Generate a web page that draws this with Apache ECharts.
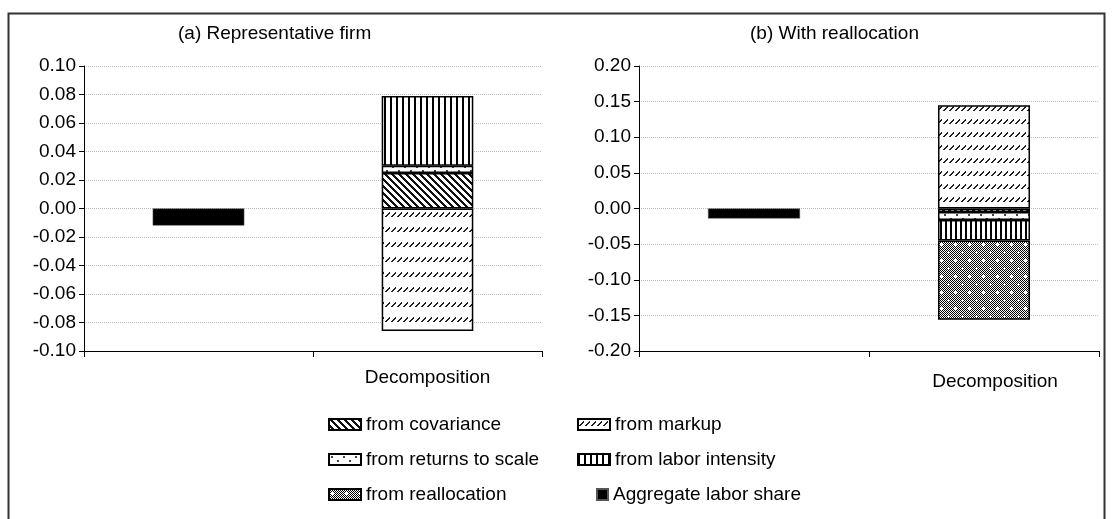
<!DOCTYPE html>
<html><head><meta charset="utf-8">
<script src="https://cdn.jsdelivr.net/npm/echarts@6/dist/echarts.min.js"></script>
<style>html,body{margin:0;padding:0;background:#fff}#c{width:1113px;height:519px}</style>
</head><body><div id="c"></div>
<script>
// ---- data ----
const categories = ['', 'Decomposition'];
const componentNames = ['from covariance', 'from markup', 'from returns to scale', 'from labor intensity', 'from reallocation'];
const aggregateName = 'Aggregate labor share';
// panel (a) Representative firm: covariance, markup, returns to scale, labor intensity, reallocation
const decompA = [0.025, -0.086, 0.005, 0.049, null];
// panel (b) With reallocation
const decompB = [-0.005, 0.145, -0.011, -0.029, -0.111];
const aggregateA = -0.012;
const aggregateB = -0.014;
const titles = ['(a) Representative firm', '(b) With reallocation'];
const yRangeA = [-0.10, 0.10, 0.02];
const yRangeB = [-0.20, 0.20, 0.05];

const FONT = '"Liberation Sans", Arial, sans-serif';
const FS = 19;

// ---- hatch patterns ----
function makeCanvas(w, h) {
  const c = document.createElement('canvas');
  c.width = w; c.height = h;
  const ctx = c.getContext('2d');
  ctx.fillStyle = '#fff'; ctx.fillRect(0, 0, w, h);
  return [c, ctx];
}
function patCov(p) {
  const [c, ctx] = makeCanvas(p, p);
  ctx.fillStyle = '#111';
  for (let y = 0; y < p; y++) for (let k = 0; k < 3; k++) ctx.fillRect((y + k) % p, y, 1, 1);
  return c;
}
function patMarkup(w, h) {
  const [c, ctx] = makeCanvas(w, h);
  ctx.fillStyle = '#222';
  for (let i = 0; i < 5; i++) ctx.fillRect((1 + i) % w, 6 - i, 2, 1);
  return c;
}
function patRts() {
  const [c, ctx] = makeCanvas(12, 8);
  ctx.fillStyle = '#444';
  ctx.fillRect(2, 2, 2, 2);
  ctx.fillRect(8, 6, 2, 2);
  return c;
}
function patLabor(p) {
  const [c, ctx] = makeCanvas(p, 4);
  ctx.fillStyle = '#000';
  ctx.fillRect(0, 0, 2, 4);
  return c;
}
function patRealloc() {
  const [c, ctx] = makeCanvas(14, 16);
  for (let y = 0; y < 16; y++) for (let x = 0; x < 14; x++) {
    ctx.fillStyle = ((x + y) % 2 === 0) ? '#000' : '#fff';
    ctx.fillRect(x, y, 1, 1);
  }
  ctx.fillStyle = '#fff';
  [[3, 4], [10, 12]].forEach(([x, y]) => {
    ctx.fillRect(x - 1, y, 3, 1); ctx.fillRect(x, y - 1, 1, 3);
  });
  return c;
}
function patterns(scaleLeft) {
  return [
    { image: patCov(scaleLeft ? 7 : 6), repeat: 'repeat' },
    { image: patMarkup(6, scaleLeft ? 15 : 13), repeat: 'repeat' },
    { image: patRts(), repeat: 'repeat' },
    { image: patLabor(scaleLeft ? 6 : 5), repeat: 'repeat' },
    { image: patRealloc(), repeat: 'repeat' }
  ];
}

function panelSeries(idx, decomp, agg, pats) {
  const out = [];
  decomp.forEach((v, i) => {
    if (v === null) return;
    out.push({
      name: componentNames[i], type: 'bar', xAxisIndex: idx, yAxisIndex: idx,
      stack: 'p' + idx, barWidth: '40%',
      data: ['-', v],
      itemStyle: { color: pats[i], borderColor: '#000', borderWidth: 1.5 }
    });
  });
  out.push({
    name: aggregateName, type: 'bar', xAxisIndex: idx, yAxisIndex: idx,
    stack: 'p' + idx, barWidth: '40%',
    data: [agg, '-'],
    itemStyle: { color: '#000', borderColor: '#555', borderWidth: 0.5 }
  });
  return out;
}

function xAx(idx, labelMargin, pad) {
  return {
    gridIndex: idx, type: 'category', data: categories,
    axisLine: { onZero: false, lineStyle: { color: '#000', width: 1 } },
    axisTick: { show: true, length: 6, lineStyle: { color: '#000' } },
    axisLabel: { color: '#000', fontSize: FS, fontFamily: FONT, margin: labelMargin, padding: pad },
    splitLine: { show: false }
  };
}
function yAx(idx, r) {
  return {
    gridIndex: idx, type: 'value', min: r[0], max: r[1], interval: r[2],
    axisLine: { show: true, lineStyle: { color: '#000', width: 1 } },
    axisTick: { show: true, length: 5, lineStyle: { color: '#000' } },
    axisLabel: { color: '#000', fontSize: FS, fontFamily: FONT, margin: 8,
      formatter: v => (Math.abs(v) < 1e-9 ? 0 : v).toFixed(2) },
    splitLine: { show: true, lineStyle: { type: 'dotted', color: '#bdbdbd', width: 1 } }
  };
}

const chart = echarts.init(document.getElementById('c'), null, { renderer: 'canvas' });
const legendBase = {
  orient: 'vertical', icon: 'rect', itemWidth: 32, itemHeight: 11, itemGap: 16, padding: 0,
  textStyle: { color: '#000', fontSize: FS, fontFamily: FONT },
  selectedMode: false
};
chart.setOption({
  animation: false,
  backgroundColor: '#fff',
  grid: [
    { left: 84, right: 1113 - 542, top: 66, bottom: 519 - 351 },
    { left: 639, right: 1113 - 1099, top: 66, bottom: 519 - 351 }
  ],
  xAxis: [xAx(0, 17, [0, 0, 0, 0]), xAx(1, 21, [0, 0, 0, 22])],
  yAxis: [yAx(0, yRangeA), yAx(1, yRangeB)],
  legend: [
    Object.assign({}, legendBase, { left: 328, top: 415,
      data: [componentNames[0], componentNames[2], componentNames[4]] }),
    Object.assign({}, legendBase, { left: 577, top: 415,
      data: [componentNames[1], componentNames[3]] }),
    Object.assign({}, legendBase, { left: 596, top: 485, itemWidth: 11, itemHeight: 11,
      data: [aggregateName] })
  ],
  graphic: [
    { type: 'rect', shape: { x: 8.5, y: 13.5, width: 1096, height: 530 },
      style: { fill: 'none', stroke: '#333', lineWidth: 2 }, silent: true },
    { type: 'text', left: 178, top: 24,
      style: { text: titles[0], fill: '#000', font: FS + 'px ' + FONT } },
    { type: 'text', left: 750, top: 24,
      style: { text: titles[1], fill: '#000', font: FS + 'px ' + FONT } }
  ],
  series: [].concat(
    panelSeries(0, decompA, aggregateA, patterns(true)),
    panelSeries(1, decompB, aggregateB, patterns(false))
  )
});
</script>
</body></html>
